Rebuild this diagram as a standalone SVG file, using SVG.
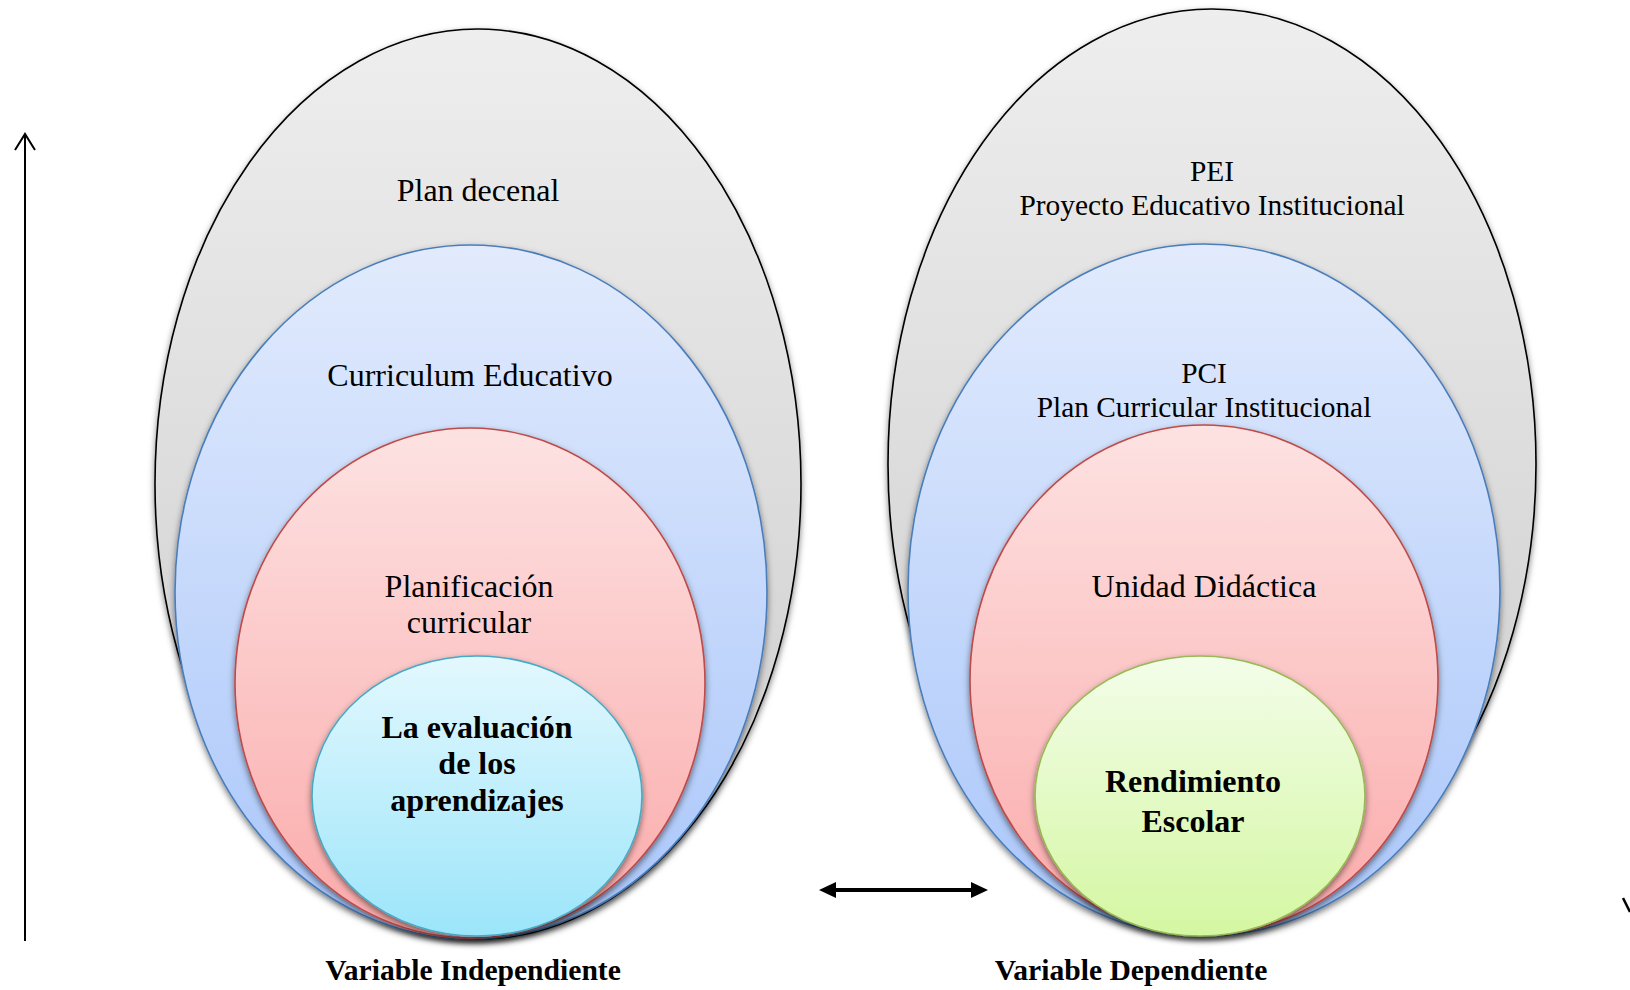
<svg xmlns="http://www.w3.org/2000/svg" width="1630" height="990" viewBox="0 0 1630 990">
<defs>
<linearGradient id="gGray" x1="0" y1="0" x2="0" y2="1"><stop offset="0" stop-color="#eeeeee"/><stop offset="1" stop-color="#cbcbcb"/></linearGradient>
<linearGradient id="gBlue" x1="0" y1="0" x2="0" y2="1"><stop offset="0" stop-color="#e2ebfd"/><stop offset="1" stop-color="#a9c6fa"/></linearGradient>
<linearGradient id="gRed" x1="0" y1="0" x2="0" y2="1"><stop offset="0" stop-color="#fde2e2"/><stop offset="1" stop-color="#fbaaaa"/></linearGradient>
<linearGradient id="gCyan" x1="0" y1="0" x2="0" y2="1"><stop offset="0" stop-color="#e3f8fe"/><stop offset="1" stop-color="#9ce5fa"/></linearGradient>
<linearGradient id="gGreen" x1="0" y1="0" x2="0" y2="1"><stop offset="0" stop-color="#f3fde9"/><stop offset="1" stop-color="#d4f7a2"/></linearGradient>
<filter id="sh" x="-10%" y="-10%" width="120%" height="125%">
<feDropShadow dx="0" dy="3" stdDeviation="3" flood-color="#000" flood-opacity="0.5"/>
</filter>
</defs>
<style>
.gray{fill:url(#gGray);stroke:#000;stroke-width:1.6;filter:url(#sh)}
.blue{fill:url(#gBlue);stroke:#4a7ebb;stroke-width:1.6;filter:url(#sh)}
.red{fill:url(#gRed);stroke:#be4b48;stroke-width:1.6;filter:url(#sh)}
.cyan{fill:url(#gCyan);stroke:#46aac5;stroke-width:1.6;filter:url(#sh)}
.green{fill:url(#gGreen);stroke:#98b954;stroke-width:1.6;filter:url(#sh)}
.t{font-family:"Liberation Serif","Times New Roman",serif;font-size:32px;fill:#000;text-anchor:middle}
.s{font-size:29.4px}
.b{font-family:"Liberation Serif","Times New Roman",serif;font-size:32px;font-weight:bold;fill:#000;text-anchor:middle}
.v{font-family:"Liberation Serif","Times New Roman",serif;font-size:29.6px;font-weight:bold;fill:#000;text-anchor:middle}
.ln{stroke:#000;fill:none}
</style>

<g id="left-plan-decenal">
<ellipse class="gray" cx="478" cy="484" rx="323" ry="455"/>
<text class="t" x="478" y="201">Plan decenal</text>
</g>
<g id="left-curriculum">
<ellipse class="blue" cx="471" cy="592" rx="296" ry="347"/>
<text class="t" x="470" y="386">Curriculum Educativo</text>
</g>
<g id="left-planificacion">
<ellipse class="red" cx="470" cy="683" rx="235" ry="255"/>
<text class="t" x="469" y="597">Planificación</text>
<text class="t" x="469" y="633">curricular</text>
</g>
<g id="left-evaluacion">
<ellipse class="cyan" cx="477" cy="796" rx="165" ry="140"/>
<text class="b" x="477" y="738">La evaluación</text>
<text class="b" x="477" y="774">de los</text>
<text class="b" x="477" y="811">aprendizajes</text>
</g>

<g id="right-pei">
<ellipse class="gray" cx="1212" cy="464" rx="324" ry="455"/>
<text class="t s" x="1212" y="181">PEI</text>
<text class="t s" x="1212" y="215">Proyecto Educativo Institucional</text>
</g>
<g id="right-pci">
<ellipse class="blue" cx="1204" cy="590" rx="296" ry="346"/>
<text class="t s" x="1204" y="383">PCI</text>
<text class="t s" x="1204" y="417">Plan Curricular Institucional</text>
</g>
<g id="right-unidad">
<ellipse class="red" cx="1204" cy="680" rx="234" ry="255"/>
<text class="t" x="1204" y="597">Unidad Didáctica</text>
</g>
<g id="right-rendimiento">
<ellipse class="green" cx="1200" cy="796" rx="165" ry="140"/>
<text class="b" x="1193" y="792">Rendimiento</text>
<text class="b" x="1193" y="832">Escolar</text>
</g>

<g id="labels">
<text class="v" x="473" y="980">Variable Independiente</text>
<text class="v" x="1131" y="980">Variable Dependiente</text>
</g>

<g id="connectors">
<line class="ln" x1="25" y1="941" x2="25" y2="136" stroke-width="2"/>
<polyline class="ln" points="15,150 25,134 35,150" stroke-width="2"/>
<line class="ln" x1="832" y1="890" x2="975" y2="890" stroke-width="4"/>
<path d="M819,890 L836,882 L836,898 Z" fill="#000"/>
<path d="M988,890 L971,882 L971,898 Z" fill="#000"/>
<line class="ln" x1="1623" y1="898" x2="1630" y2="912" stroke-width="2.5"/>
</g>
</svg>
